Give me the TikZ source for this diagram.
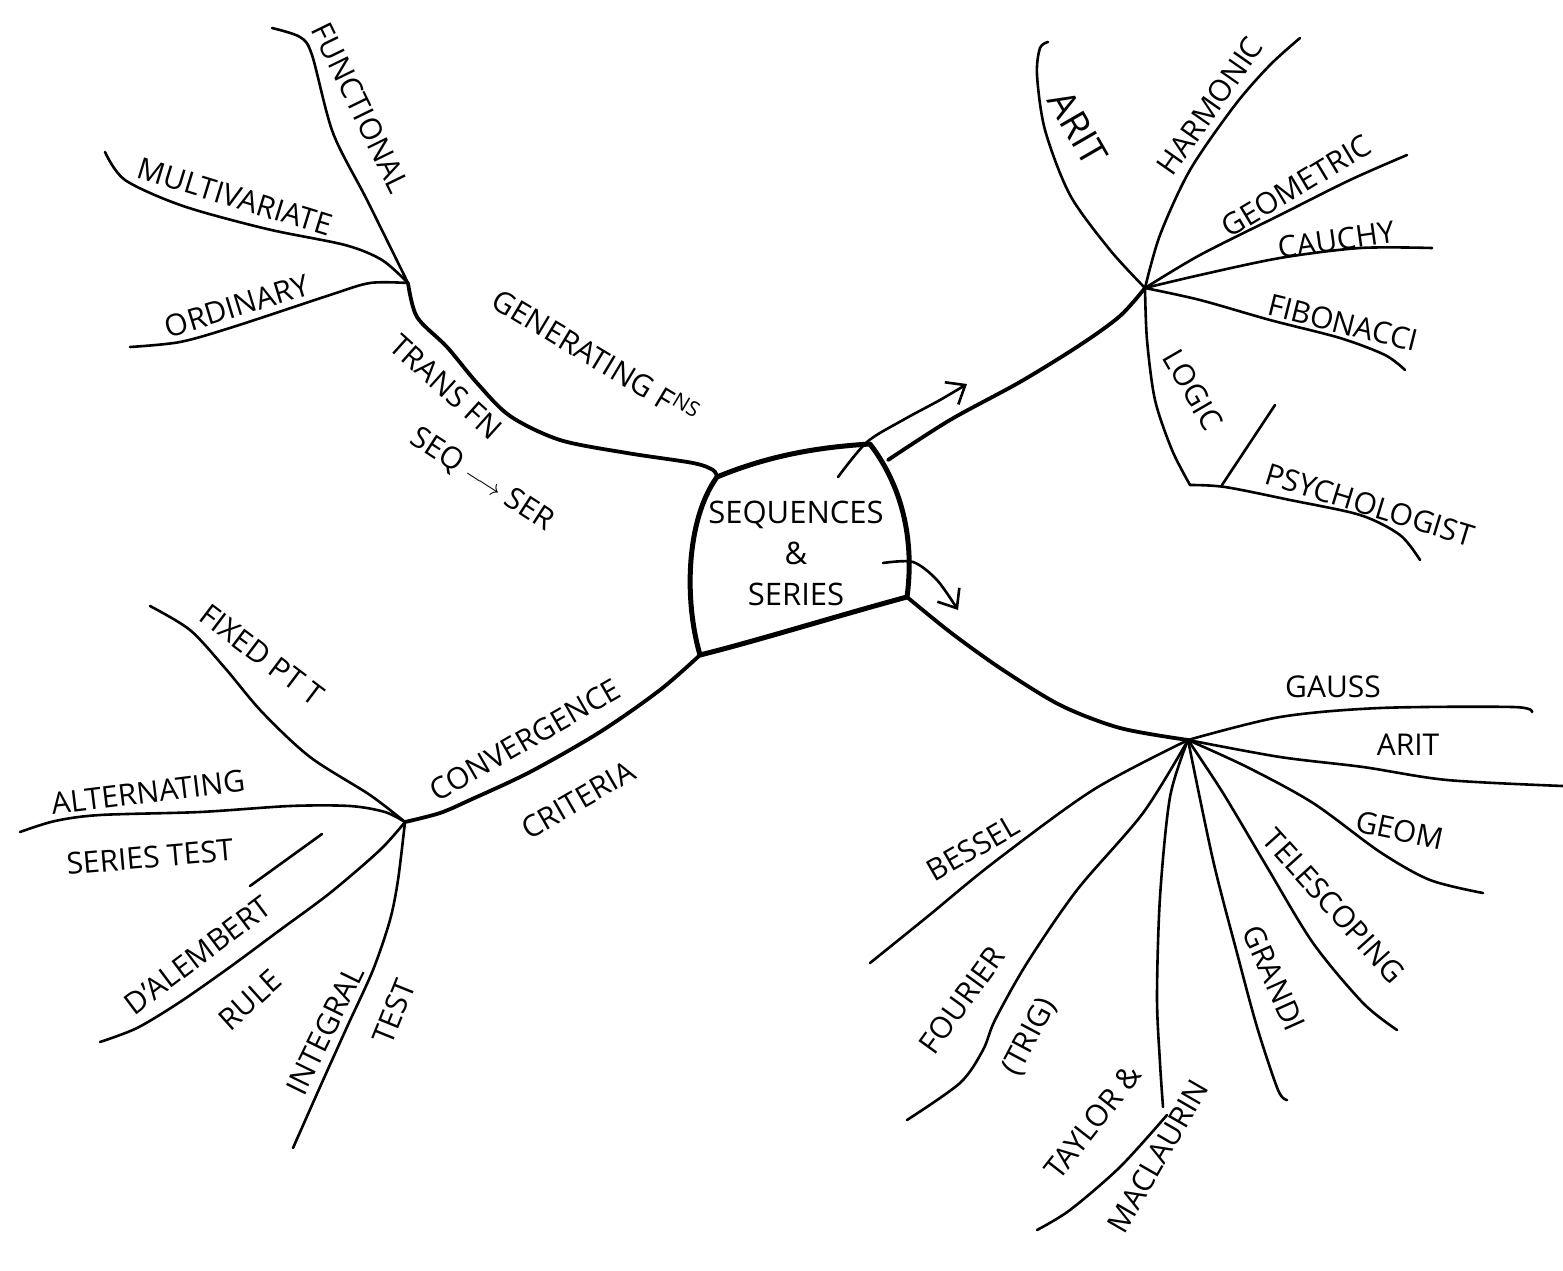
\documentclass[tikz,border=0pt]{standalone}
\usepackage{fontspec}
\setmainfont{Open Sans}
\usetikzlibrary{arrows.meta}
\begin{document}
\begin{tikzpicture}[x=1pt,y=-1pt,line cap=round,line join=round,
  branch/.style={line width=2.6pt},
  trunk/.style={line width=3.8pt},
  boxline/.style={line width=5pt},
  lbl/.style={font=\fontsize{30}{32}\selectfont,inner sep=0pt},
  biglbl/.style={font=\fontsize{38}{40}\selectfont,inner sep=0pt},
  arr/.style={line width=2.6pt,-{Straight Barb[length=16pt,width=26pt,line width=2.6pt]}}]
\useasboundingbox[fill=white] (0,0) rectangle (1563,1271);

% ---- central box ----
\coordinate (tl) at (717,477);
\coordinate (tr) at (870,444);
\coordinate (br) at (907,597);
\coordinate (bl) at (700,655);
\draw[boxline] (tl) .. controls (770,455) and (820,447) .. (tr)
  .. controls (905,490) and (914,545) .. (br)
  .. controls (840,615) and (760,640) .. (bl)
  .. controls (684,600) and (686,520) .. (tl) -- cycle;
\node[lbl,align=center,font=\fontsize{31}{41}\selectfont] (center) at (796,553) {SEQUENCES\\\&\\SERIES};

% ---- hubs ----
\coordinate (hubGF) at (408,283);
\coordinate (hubTR) at (1145,288);
\coordinate (hubCC) at (405,822);
\coordinate (hubBR) at (1188,740);

% ---- top-left: generating functions ----
\draw[trunk] plot[smooth] coordinates {(tl) (713,470) (693,463) (627,453) (560,440) (510,416) (477,383) (447,347) (417,317) (hubGF)};
\draw[branch] plot[smooth] coordinates {(hubGF) (367,200) (333,133) (312,55) (300,37) (272,28)};
\draw[branch] plot[smooth] coordinates {(hubGF) (382,260) (345,245) (267,229) (183,206) (125,180) (105,152)};
\draw[branch] plot[smooth] coordinates {(hubGF) (370,283) (330,295) (233,327) (180,342) (130,347)};
\node[lbl,rotate=-64] (functional) at (361,108) {FUNCTIONAL};
\node[lbl,rotate=-17] (multi) at (235,197) {MULTIVARIATE};
\node[lbl,rotate=17] (ordinary) at (237,306) {ORDINARY};
\node[lbl,rotate=-31] (generating) at (596,356) {GENERATING F\textsuperscript{NS}};
\node[lbl,rotate=-42] (transfn) at (446,387) {TRANS FN};
\node[lbl,rotate=-33] (seqser) at (482,480) {SEQ $\longrightarrow$ SER};

% ---- top-right ----
\draw[trunk] plot[smooth] coordinates {(888,460) (950,420) (1020,382) (1080,345) (1120,316) (hubTR)};
\draw[arr] plot[smooth] coordinates {(838,477) (867,442) (903,420) (940,400) (967,384)};
\draw[branch] plot[smooth] coordinates {(hubTR) (1110,250) (1070,195) (1045,130) (1037,75) (1040,48) (1048,42)};
\draw[branch] plot[smooth] coordinates {(hubTR) (1160,235) (1190,170) (1235,105) (1270,65) (1300,38)};
\draw[branch] plot[smooth] coordinates {(hubTR) (1200,255) (1280,215) (1350,180) (1407,155)};
\draw[branch] plot[smooth] coordinates {(hubTR) (1200,275) (1280,258) (1360,248) (1432,248)};
\draw[branch] plot[smooth] coordinates {(hubTR) (1200,300) (1270,320) (1340,338) (1385,355) (1405,370)};
\coordinate (logicend) at (1190,485);
\draw[branch] plot[smooth] coordinates {(hubTR) (1147,340) (1155,400) (1172,450) (logicend)};
\draw[branch] plot[smooth] coordinates {(logicend) (1225,487) (1290,500) (1360,515) (1400,535) (1420,560)};
\coordinate (slashA) at (1275,405);
\coordinate (slashB) at (1222,485);
\draw[branch] (slashA) -- (slashB);
\node[biglbl,rotate=-60] (aritA) at (1078,128) {ARIT};
\node[lbl,rotate=55] (harmonic) at (1210,106) {HARMONIC};
\node[lbl,rotate=31] (geometric) at (1296,186) {GEOMETRIC};
\node[lbl,rotate=8] (cauchy) at (1336,240) {CAUCHY};
\node[lbl,rotate=-14] (fibonacci) at (1343,323) {FIBONACCI};
\node[lbl,rotate=-60] (logic) at (1193,390) {LOGIC};
\node[lbl,rotate=-17] (psych) at (1370,505) {PSYCHOLOGIST};

% ---- bottom-left: convergence criteria ----
\draw[trunk] plot[smooth] coordinates {(bl) (660,690) (600,732) (530,772) (470,800) (440,813) (hubCC)};
\draw[branch] plot[smooth] coordinates {(hubCC) (370,795) (310,757) (262,712) (225,668) (190,630) (150,606)};
\draw[branch] plot[smooth] coordinates {(hubCC) (385,812) (350,806) (290,806) (200,812) (100,815) (55,821) (20,832)};
\coordinate (barA) at (250,886);
\coordinate (barB) at (322,834);
\draw[branch] (barA) -- (barB);
\draw[branch] plot[smooth] coordinates {(hubCC) (380,850) (330,893) (280,930) (230,967) (180,1002) (137,1028) (100,1042)};
\draw[branch] plot[smooth] coordinates {(hubCC) (398,880) (390,920) (373,970) (347,1027) (320,1087) (293,1148)};
\node[lbl,rotate=-37] (fixed) at (262,655) {FIXED PT T};
\node[lbl,rotate=7] (altern) at (148,792) {ALTERNATING};
\node[lbl,rotate=5] (sertest) at (150,857) {SERIES TEST};
\node[lbl,rotate=37] (dalembert) at (198,955) {D'ALEMBERT};
\node[lbl,rotate=42] (rule) at (250,1000) {RULE};
\node[lbl,rotate=64] (integral) at (325,1030) {INTEGRAL};
\node[lbl,rotate=68] (testB) at (394,1012) {TEST};
\node[lbl,rotate=30] (converg) at (525,740) {CONVERGENCE};
\node[lbl,rotate=30] (criteria) at (578,800) {CRITERIA};

% ---- bottom-right ----
\draw[trunk] plot[smooth] coordinates {(br) (950,632) (1000,668) (1060,705) (1120,728) (hubBR)};
\draw[arr] plot[smooth] coordinates {(883,563) (913,562) (937,580) (958,610)};
\draw[branch] plot[smooth] coordinates {(hubBR) (1280,717) (1380,708) (1513,707) (1532,712)};
\draw[branch] plot[smooth] coordinates {(hubBR) (1280,757) (1363,767) (1447,780) (1563,786)};
\draw[branch] plot[smooth] coordinates {(hubBR) (1247,767) (1313,803) (1380,852) (1430,880) (1483,893)};
\draw[branch] plot[smooth] coordinates {(hubBR) (1223,793) (1267,867) (1313,943) (1363,1003) (1397,1030)};
\draw[branch] plot[smooth] coordinates {(hubBR) (1213,860) (1237,953) (1257,1027) (1278,1090) (1287,1100)};
\coordinate (taylorend) at (1163,1107);
\draw[branch] plot[smooth] coordinates {(hubBR) (1170,797) (1160,897) (1157,997) (1160,1063) (taylorend)};
\draw[branch] plot[smooth] coordinates {(1167,1115) (1120,1167) (1070,1210) (1037,1230)};
\draw[branch] plot[smooth] coordinates {(hubBR) (1143,813) (1077,890) (1027,963) (995,1020) (983,1050) (960,1083) (907,1120)};
\draw[branch] plot[smooth] coordinates {(hubBR) (1093,790) (993,863) (927,917) (870,963)};
\node[lbl] (gauss) at (1333,687) {GAUSS};
\node[lbl] (aritB) at (1408,745) {ARIT};
\node[lbl,rotate=-12] (geom) at (1400,830) {GEOM};
\node[lbl,rotate=-48] (telescoping) at (1334,906) {TELESCOPING};
\node[lbl,rotate=-66] (grandi) at (1274,978) {GRANDI};
\node[lbl,rotate=52] (taylor) at (1093,1122) {TAYLOR \&};
\node[lbl,rotate=60] (maclaurin) at (1158,1156) {MACLAURIN};
\node[lbl,rotate=54] (fourier) at (962,1000) {FOURIER};
\node[lbl,rotate=62] (trig) at (1030,1037) {(TRIG)};
\node[lbl,rotate=30] (bessel) at (973,848) {BESSEL};
\end{tikzpicture}
\end{document}
